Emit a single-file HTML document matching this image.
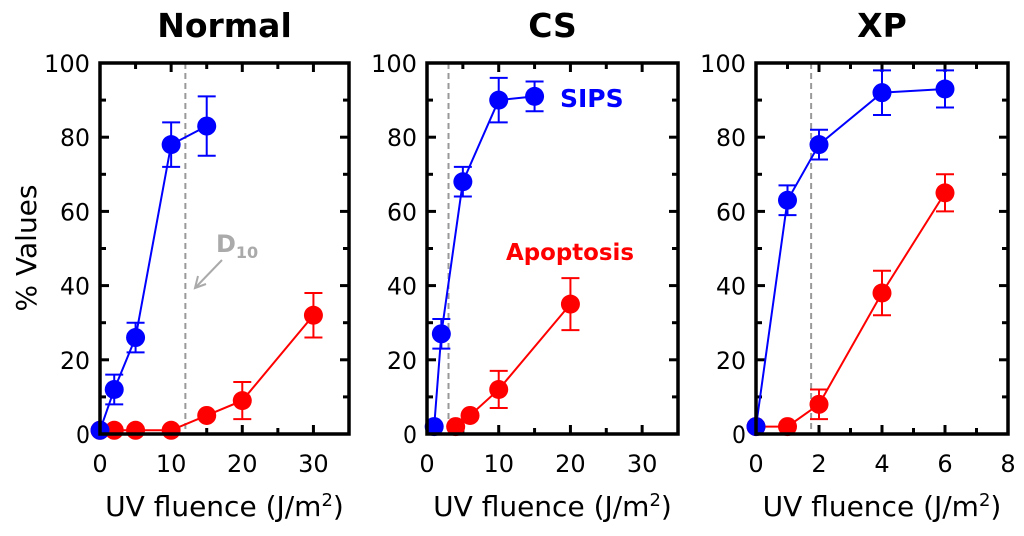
<!DOCTYPE html>
<html><head><meta charset="utf-8"><style>
body{margin:0;background:#fff;}
svg{display:block;font-family:"DejaVu Sans","Liberation Sans",sans-serif;}
</style></head><body>
<svg id="chart" width="1024" height="536" viewBox="0 0 1024 536"></svg>
<script>
const panelTitles = ["Normal", "CS", "XP"];
const xMaxes = [35, 35, 8];
const xTickLabels = [[0,10,20,30],[0,10,20,30],[0,2,4,6,8]];
const xMinorSteps = [5, 5, 1];
const yTickLabels = [0,20,40,60,80,100];
const d10Values = [12, 3, 1.75];
const sipsX = [[0,2,5,10,15],[1,2,5,10,15],[0,1,2,4,6]];
const sipsY = [[1,12,26,78,83],[2,27,68,90,91],[2,63,78,92,93]];
const sipsErr = [[0,4,4,6,8],[0,4,4,6,4],[0,4,4,6,5]];
const apoX = [[0,2,5,10,15,20,30],[4,6,10,20],[0,1,2,4,6]];
const apoY = [[1,1,1,1,5,9,32],[2,5,12,35],[2,2,8,38,65]];
const apoErr = [[0,0,0,0,0,5,6],[0,0,5,7],[0,0,4,6,5]];

const svg = document.getElementById('chart');
const NS = 'http://www.w3.org/2000/svg';
function mk(tag, attrs, parent){const e=document.createElementNS(NS,tag);for(const k in attrs)e.setAttribute(k,attrs[k]);(parent||svg).appendChild(e);return e;}
const boxes = [[100,349],[427,678],[756,1008]];
const yTop = 63, yBot = 434;
const ys = v => yBot - v/100*(yBot-yTop);

panelTitles.forEach((title, p) => {
  const [L,R] = boxes[p];
  const xs = v => L + v/xMaxes[p]*(R-L);
  const g = mk('g', {});
  
  
  const t = mk('text',{x:(L+R)/2,y:37,'text-anchor':'middle','font-size':33,'font-weight':'bold'},g);
  t.textContent = title;
  
  
  for (let v=0; v<=100; v+=10){
    const len = v%20===0 ? 9 : 6;
    mk('line',{x1:L,x2:L+len,y1:ys(v),y2:ys(v),stroke:'#000','stroke-width':3},g);
    mk('line',{x1:R,x2:R-len,y1:ys(v),y2:ys(v),stroke:'#000','stroke-width':3},g);
  }
  yTickLabels.forEach(v=>{
    const tl = mk('text',{x:L-10,y:ys(v)+9,'text-anchor':'end','font-size':24,'textLength':v===100?46:(v===0?14:30),'lengthAdjust':'spacingAndGlyphs'},g);
    tl.textContent = v;
    
    
  });
  for (let v=0; v<=xMaxes[p]; v+=xMinorSteps[p]){
    const major = xTickLabels[p].includes(v);
    const len = major ? 9 : 6;
    mk('line',{x1:xs(v),x2:xs(v),y1:yBot,y2:yBot-len,stroke:'#000','stroke-width':3},g);
    mk('line',{x1:xs(v),x2:xs(v),y1:yTop,y2:yTop+len,stroke:'#000','stroke-width':3},g);
  }
  xTickLabels[p].forEach(v=>{
    const tl = mk('text',{x:xs(v),y:472,'text-anchor':'middle','font-size':24},g);
    tl.textContent = v;
    
    
  });
  const xl = mk('text',{x:(L+R)/2,y:516,'text-anchor':'middle','font-size':28},g);
  xl.innerHTML = 'UV fluence (J/m<tspan dy="-10" font-size="18">2</tspan><tspan dy="10">)</tspan>';
  
  
  const dl = mk('line',{x1:xs(d10Values[p]),x2:xs(d10Values[p]),y1:yTop,y2:yBot,stroke:'#999','stroke-width':2,'stroke-dasharray':'6,4'},g);
  
  
  [[apoX,apoY,apoErr,'#ff0000','apoptosis'],[sipsX,sipsY,sipsErr,'#0000ff','sips']].forEach(([X,Y,E,col,nm])=>{
    const pts = X[p].map((x,i)=>xs(x)+','+ys(Y[p][i])).join(' ');
    const pl = mk('polyline',{points:pts,fill:'none',stroke:col,'stroke-width':2},g);
    
    
    X[p].forEach((x,i)=>{
      const cx = xs(x), y = Y[p][i], e = E[p][i];
      if (e>0){
        mk('line',{x1:cx,x2:cx,y1:ys(y+e),y2:ys(y-e),stroke:col,'stroke-width':2},g);
        mk('line',{x1:cx-9,x2:cx+9,y1:ys(y+e),y2:ys(y+e),stroke:col,'stroke-width':2},g);
        mk('line',{x1:cx-9,x2:cx+9,y1:ys(y-e),y2:ys(y-e),stroke:col,'stroke-width':2},g);
      }
      const c = mk('circle',{cx:cx,cy:ys(y),r:9.5,fill:col},g);
      
      
    });
  });
  const box = mk('rect',{x:L,y:yTop,width:R-L,height:yBot-yTop,fill:'none',stroke:'#000','stroke-width':3.5},g);
  
  
});
</script>
<svg style="position:absolute;left:0;top:0" width="1024" height="536">
  <text x="36" y="248" transform="rotate(-90 36 248)" text-anchor="middle" font-size="28" font-family="DejaVu Sans, Liberation Sans, sans-serif">% Values</text>
  <text x="216" y="252" font-size="24" font-weight="bold" fill="#aaa" font-family="DejaVu Sans, Liberation Sans, sans-serif">D<tspan dy="6" font-size="16">10</tspan></text>
  <line x1="222" y1="260" x2="196" y2="287" stroke="#aaa" stroke-width="2"/>
  <polyline points="198,276 195,288 206,284" fill="none" stroke="#aaa" stroke-width="2"/>
  <text x="560" y="107" font-size="25" font-weight="bold" fill="#0000ff" font-family="DejaVu Sans, Liberation Sans, sans-serif">SIPS</text>
  <text x="506" y="260" font-size="23" font-weight="bold" fill="#ff0000" textLength="128" lengthAdjust="spacingAndGlyphs" font-family="DejaVu Sans, Liberation Sans, sans-serif">Apoptosis</text>
</svg>
</body></html>
